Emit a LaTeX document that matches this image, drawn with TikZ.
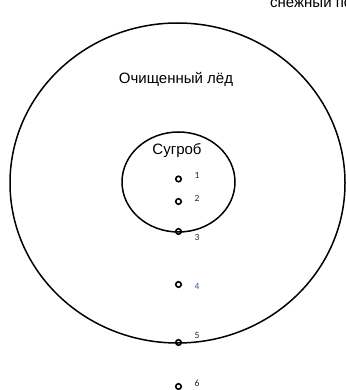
\documentclass[tikz,border=0pt]{standalone}
\usepackage{fontspec}
\setmainfont{Liberation Sans}
\newfontfamily\numfont{Carlito}
\usetikzlibrary{positioning}
\definecolor{numblue}{RGB}{47,85,151}
\tikzset{
  zone/.style={draw, line width=1.5pt},
  title/.style={font=\fontsize{15}{17}\selectfont, inner sep=0pt},
  pt/.style={draw, circle, line width=1.6pt, minimum size=5.5pt, inner sep=0pt},
  num/.style={font=\numfont\fontsize{9.5}{10}\selectfont, text=black!85, inner sep=0pt},
}
\begin{document}
\begin{tikzpicture}[x=1pt, y=-1pt]
  \useasboundingbox (0,0) rectangle (345,390);
  % areas
  \draw[zone] (177.5,183) ellipse [x radius=167.5, y radius=160];
  \draw[zone] (178.5,182) ellipse [x radius=56.5, y radius=50];
  \node[title] (ice) at (176,79) {Очищенный лёд};
  \node[title] (drift) at (177,151) {Сугроб};
  \node[title, anchor=west] (snow) at (270,3) {снежный покров};
  % measuring points
  \node[pt] (p1) at (178.5,179) {};
  \node[pt] (p2) at (178.5,201.5) {};
  \node[pt] (p3) at (178.5,231.5) {};
  \node[pt] (p4) at (178.5,284.5) {};
  \node[pt] (p5) at (178.5,342.5) {};
  \node[pt] (p6) at (178.5,386.5) {};
  \node[num] (n1) at (197,175) {1};
  \node[num] (n2) at (197,198.5) {2};
  \node[num] (n3) at (197,237.5) {3};
  \node[num, text=numblue] (n4) at (197,286) {4};
  \node[num] (n5) at (197,335) {5};
  \node[num] (n6) at (197,383.5) {6};
\end{tikzpicture}
\end{document}
